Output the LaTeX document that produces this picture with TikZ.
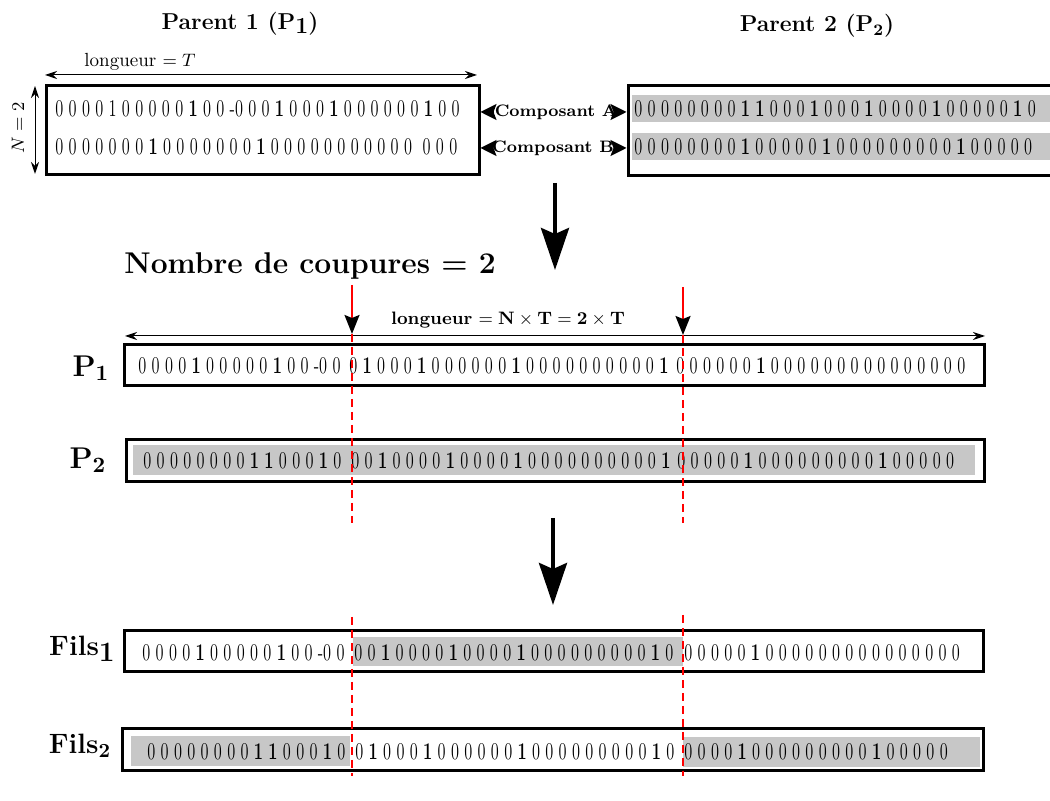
\documentclass[tikz,border=0pt]{standalone}
\usepackage{graphicx}
\usetikzlibrary{arrows.meta}

\newlength{\du}
\setlength{\du}{0.5pt}

\definecolor{bandgray}{rgb}{0.780000, 0.780000, 0.780000}
\definecolor{cutred}{rgb}{1.000000, 0.000000, 0.000000}

\newcommand{\uu}{\textbf{1}}
\newcommand{\bits}[1]{\scalebox{0.68}[1]{\fontsize{12}{14}\selectfont #1}}

\tikzset{
  chrom/.style={draw, line width=1.5pt, inner sep=0pt},
  bitrow/.style={anchor=west, inner sep=0pt},
  dimline/.style={line width=0.5pt, {Stealth[length=6pt,width=4pt]}-{Stealth[length=6pt,width=4pt]}},
  comparrow/.style={line width=0.8pt, -{Stealth[length=8pt,width=8pt,inset=1.5pt]}},
  bigarrow/.style={line width=2pt, -{Stealth[length=21pt,width=14pt,inset=3pt]}},
  cutline/.style={cutred, line width=1pt},
  cuthead/.style={cutline, -{Stealth[length=9.5pt,width=7.5pt,inset=1.5pt,color=black]}},
  cutdash/.style={cutline, dash pattern=on 4pt off 2.5pt},
  rowlabel/.style={font=\bfseries\fontsize{15}{18}\selectfont, inner sep=0pt}
}

\begin{document}
\begin{tikzpicture}
\pgftransformxscale{1.000000}
\pgftransformyscale{-1.000000}
\useasboundingbox (0\du,0\du) rectangle (1050\du,801\du);

% parent 1
\node[font=\bfseries\fontsize{11.5}{14}\selectfont] (titP1) at (240\du,24\du) {Parent 1 (P\raisebox{-0.4ex}{1})};
\node[font=\fontsize{9.5}{11}\selectfont] (lgT) at (140\du,62\du) {longueur $= T$};
\coordinate (lgTa) at (45\du,75\du);
\coordinate (lgTb) at (477\du,75\du);
\draw[dimline] (lgTa)--(lgTb);
\node[font=\fontsize{9.5}{11}\selectfont, rotate=90] (lgN) at (18\du,128\du) {$N = 2$};
\coordinate (lgNa) at (35\du,86\du);
\coordinate (lgNb) at (35\du,174\du);
\draw[dimline] (lgNa)--(lgNb);
\node[chrom, minimum width=433\du, minimum height=89\du] (box1) at (262.5\du,130.5\du) {};
\node[bitrow] (p1a) at (55\du,108.5\du) {\bits{0 0 0 0 1 0 0 0 0 0 \uu{} 0 0 -0 0 0 \uu{} 0 0 0 \uu{} 0 0 0 0 0 0 \uu{} 0 0}};
\node[bitrow] (p1b) at (55\du,146.5\du) {\bits{0 0 0 0 0 0 0 \uu{} 0 0 0 0 0 0 0 \uu{} 0 0 0 0 0 0 0 0 0 0 0~ 0 0 0}};

% parent 2
\node[font=\bfseries\fontsize{11.5}{14}\selectfont] (titP2) at (817\du,26\du) {Parent 2 (P$_{\mathbf{2}}$)};
\fill[bandgray] (632\du,95\du) rectangle (1056\du,122\du);
\fill[bandgray] (632\du,133\du) rectangle (1056\du,160\du);
\node[chrom, minimum width=432\du, minimum height=90\du] (box2) at (844\du,131\du) {};
\node[bitrow] (p2a) at (634\du,108.5\du) {\bits{0 0 0 0 0 0 0 0 \uu{} \uu{} 0 0 0 \uu{} 0 0 0 \uu{} 0 0 0 0 \uu{} 0 0 0 0 0 \uu{} 0}};
\node[bitrow] (p2b) at (634\du,146.5\du) {\bits{0 0 0 0 0 0 0 0 \uu{} 0 0 0 0 0 \uu{} 0 0 0 0 0 0 0 0 0 \uu{} 0 0 0 0 0}};

% composants
\node[font=\bfseries\fontsize{8.3}{10}\selectfont, inner sep=0pt] (compA) at (556\du,112\du) {Composant A};
\node[font=\bfseries\fontsize{8.3}{10}\selectfont, inner sep=0pt] (compB) at (553\du,148\du) {Composant B};
\draw[comparrow] (compA.west)--(compA.west -| box1.east);
\draw[comparrow] (compA.east)--(compA.east -| box2.west);
\draw[comparrow] (compB.west)--(compB.west -| box1.east);
\draw[comparrow] (compB.east)--(compB.east -| box2.west);

\coordinate (arrAs) at (555\du,183\du);
\coordinate (arrAe) at (555\du,270\du);
\draw[bigarrow] (arrAs)--(arrAe);

% croisement
\node[font=\bfseries\fontsize{15}{18}\selectfont, anchor=base west, inner sep=0pt] (coup) at (124\du,274\du) {Nombre de coupures = 2};
\node[font=\fontsize{9}{11}\selectfont] (lgNT) at (508\du,320\du) {\textbf{longueur} $=\mathbf{N}\times\mathbf{T}=\mathbf{2}\times\mathbf{T}$};
\coordinate (lgNTa) at (125\du,336\du);
\coordinate (lgNTb) at (985\du,336\du);
\draw[dimline] (lgNTa)--(lgNTb);

\node[rowlabel] (labP1) at (91\du,368\du) {P$_{\mathbf{1}}$};
\node[chrom, minimum width=860\du, minimum height=41\du] (boxP1) at (554\du,365.5\du) {};
\node[bitrow] (p1l) at (138\du,366\du) {\bits{0 0 0 0 \uu{} 0 0 0 0 0 \uu{} 0 0 -0 0}};
\node[bitrow] (p1m) at (349\du,366\du) {\bits{0 \uu{} 0 0 0 \uu{} 0 0 0 0 0 0 \uu{} 0 0 0 0 0 0 0 0 0 0 \uu{}}};
\node[bitrow] (p1r) at (676\du,366\du) {\bits{0 0 0 0 0 0 \uu{} 0 0 0 0 0 0 0 0 0 0 0 0 0 0 0}};

\node[rowlabel] (labP2) at (88\du,460\du) {P$_{\mathbf{2}}$};
\fill[bandgray] (133\du,445\du) rectangle (975\du,475\du);
\node[chrom, minimum width=858\du, minimum height=42\du] (boxP2) at (555\du,461\du) {};
\node[bitrow] (p2l) at (143\du,461\du) {\bits{0 0 0 0 0 0 0 0 \uu{} \uu{} 0 0 0 \uu{} 0}};
\node[bitrow] (p2m) at (351\du,461\du) {\bits{0 0 \uu{} 0 0 0 0 \uu{} 0 0 0 0 \uu{} 0 0 0 0 0 0 0 0 0 0 \uu{}}};
\node[bitrow] (p2r) at (677\du,461\du) {\bits{0 0 0 0 0 \uu{} 0 0 0 0 0 0 0 0 0 \uu{} 0 0 0 0 0}};

\coordinate (arrBs) at (553\du,518\du);
\coordinate (arrBe) at (553\du,605\du);
\draw[bigarrow] (arrBs)--(arrBe);

% enfants
\node[rowlabel, font=\bfseries\fontsize{14}{17}\selectfont] (labF1) at (82\du,649\du) {Fils\raisebox{-0.5ex}{1}};
\fill[bandgray] (353\du,637\du) rectangle (683\du,666\du);
\node[chrom, minimum width=859\du, minimum height=41\du] (boxF1) at (553.5\du,651.5\du) {};
\node[bitrow] (f1l) at (142\du,653\du) {\bits{0 0 0 0 \uu{} 0 0 0 0 0 \uu{} 0 0 -0 0}};
\node[bitrow] (f1m) at (354\du,653\du) {\bits{0 0 \uu{} 0 0 0 0 \uu{} 0 0 0 0 \uu{} 0 0 0 0 0 0 0 0 0 \uu{} 0}};
\node[bitrow] (f1r) at (684\du,653\du) {\bits{0 0 0 0 0 \uu{} 0 0 0 0 0 0 0 0 0 0 0 0 0 0 0}};

\node[rowlabel, font=\bfseries\fontsize{14}{17}\selectfont] (labF2) at (80\du,746\du) {Fils$_{\mathbf{2}}$};
\fill[bandgray] (131\du,736\du) rectangle (350\du,766\du);
\fill[bandgray] (683\du,737\du) rectangle (980\du,767\du);
\node[chrom, minimum width=861\du, minimum height=42\du] (boxF2) at (552.5\du,750\du) {};
\node[bitrow] (f2l) at (147\du,752\du) {\bits{0 0 0 0 0 0 0 0 \uu{} \uu{} 0 0 0 \uu{} 0}};
\node[bitrow] (f2m) at (355\du,752\du) {\bits{0 \uu{} 0 0 0 \uu{} 0 0 0 0 0 0 \uu{} 0 0 0 0 0 0 0 0 0 \uu{} 0}};
\node[bitrow] (f2r) at (684\du,752\du) {\bits{0 0 0 0 \uu{} 0 0 0 0 0 0 0 0 0 \uu{} 0 0 0 0 0}};

% points de coupure
\coordinate (cutAtop) at (352\du,285\du);
\coordinate (cutAtip) at (352\du,334\du);
\coordinate (cutAbot) at (352\du,523\du);
\coordinate (cutAlow) at (352\du,617\du);
\coordinate (cutAend) at (352\du,776\du);
\draw[cuthead] (cutAtop)--(cutAtip);
\draw[cutdash] (cutAtip)--(cutAbot);
\draw[cutdash] (cutAlow)--(cutAend);
\coordinate (cutBtop) at (683\du,287\du);
\coordinate (cutBtip) at (683\du,335\du);
\coordinate (cutBbot) at (683\du,523\du);
\coordinate (cutBlow) at (683\du,615\du);
\coordinate (cutBend) at (683\du,776\du);
\draw[cuthead] (cutBtop)--(cutBtip);
\draw[cutdash] (cutBtip)--(cutBbot);
\draw[cutdash] (cutBlow)--(cutBend);
\end{tikzpicture}
\end{document}
